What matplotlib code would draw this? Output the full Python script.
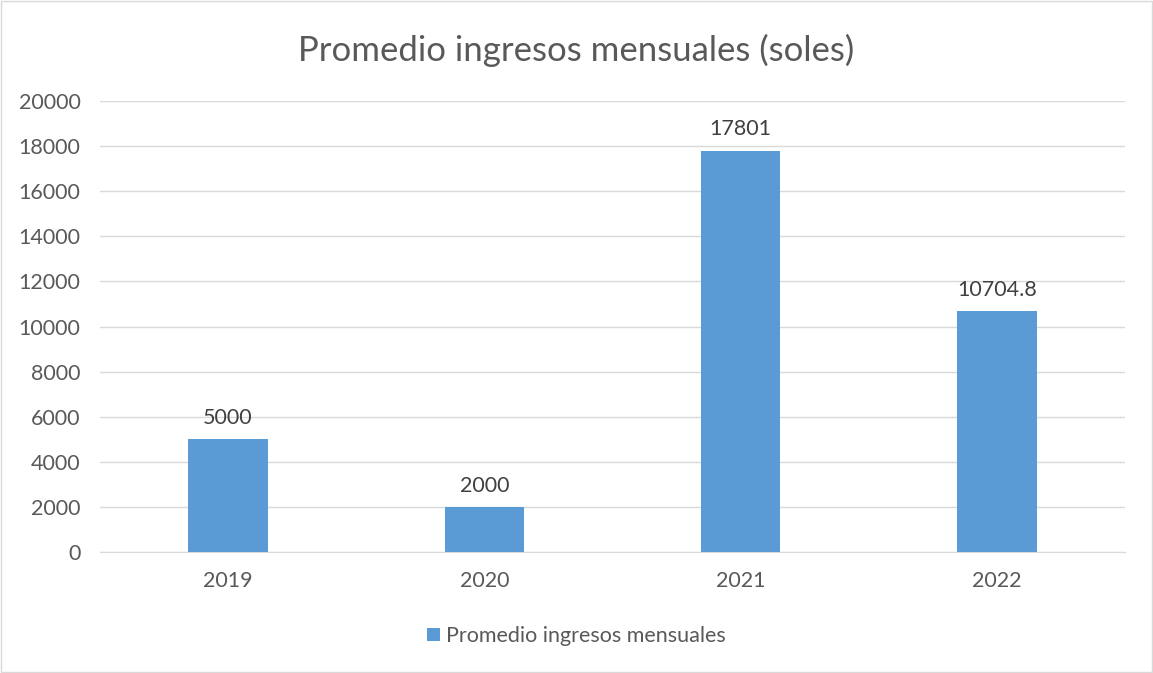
import matplotlib.pyplot as plt
from matplotlib.patches import Rectangle

plt.rcParams["font.family"] = ["Lato", "DejaVu Sans"]

years = ["2019", "2020", "2021", "2022"]
ingresos = [5000, 2000, 17801, 10704.8]
value_labels = ["5000", "2000", "17801", "10704.8"]
yticks = list(range(0, 20001, 2000))

BAR = "#5B9BD5"
TXT = "#595959"
GRID = "#D9D9D9"

fig = plt.figure(figsize=(11.53, 6.73), dpi=100)
ax = fig.add_axes([0.0867, 0.1798, 0.889, 0.6701])

x = range(len(years))
bars = ax.bar(x, ingresos, width=0.31, color=BAR, zorder=3,
              label="Promedio ingresos mensuales")
for b, lab in zip(bars, value_labels):
    ax.annotate(lab, (b.get_x() + b.get_width() / 2, b.get_height()),
                xytext=(0, 8), textcoords="offset points",
                ha="center", va="bottom", fontsize=15.5, color="#404040")

ax.set_xlim(-0.5, len(years) - 0.5)
ax.set_ylim(0, 20000)
ax.set_yticks(yticks)
ax.set_yticklabels([str(t) for t in yticks])
ax.set_xticks(list(x))
ax.set_xticklabels(years)
ax.tick_params(axis="both", length=0, labelsize=15.5, colors=TXT)
ax.tick_params(axis="x", pad=14)
ax.tick_params(axis="y", pad=14)
ax.grid(axis="y", color=GRID, linewidth=1, zorder=0)
for s in ["top", "right", "left"]:
    ax.spines[s].set_visible(False)
ax.spines["bottom"].set_color(GRID)

fig.text(0.5, 0.925, "Promedio ingresos mensuales (soles)", ha="center",
         va="center", fontsize=25, color=TXT)

ax.legend(loc="center", bbox_to_anchor=(0.5, 0.055), bbox_transform=fig.transFigure,
          frameon=False, fontsize=15.5, labelcolor=TXT, handlelength=0.6,
          handleheight=0.6, handletextpad=0.3)

fig.patches.append(Rectangle((0.001, 0.001), 0.998, 0.998, transform=fig.transFigure,
                             fill=False, edgecolor="#D9D9D9", linewidth=1))

fig.savefig("out.png", dpi=100, facecolor="white")
